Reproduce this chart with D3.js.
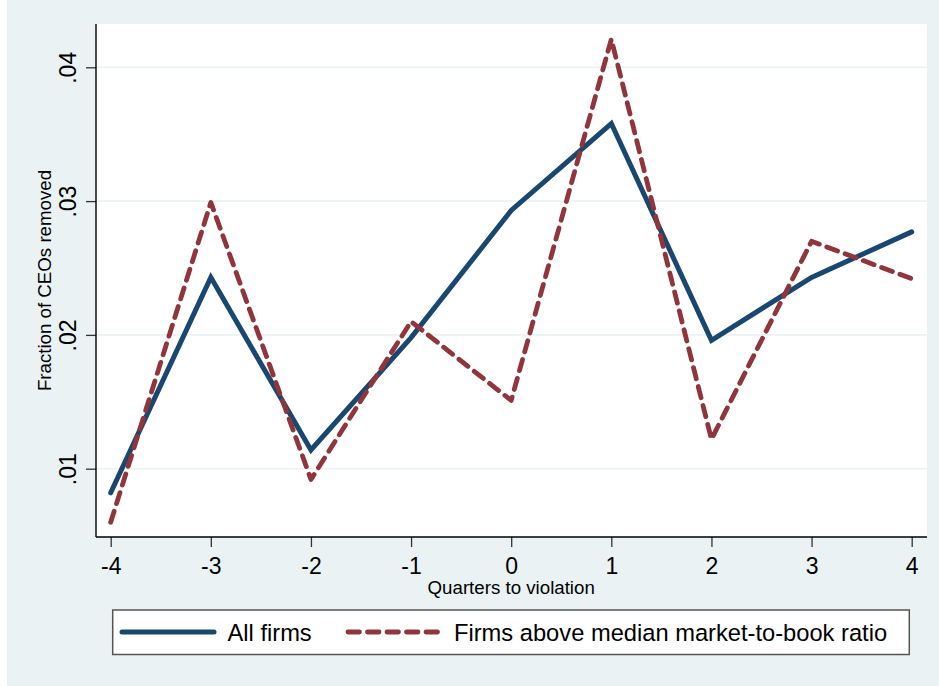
<!DOCTYPE html>
<html><head><meta charset="utf-8">
<script src="https://cdn.jsdelivr.net/npm/d3@7"></script>
<style>
html,body{margin:0;padding:0;background:#fff;}
svg{display:block;}
text{font-family:"Liberation Sans",Arial,Helvetica,sans-serif;fill:#000;}
</style></head>
<body>
<svg id="chart" width="939" height="686"></svg>
<script>
const quarters = [-4, -3, -2, -1, 0, 1, 2, 3, 4];
const allFirms = [0.0082, 0.0243, 0.0114, 0.0198, 0.0293, 0.0358, 0.0196, 0.0243, 0.0277];
const aboveMedian = [0.0060, 0.0299, 0.0092, 0.0210, 0.0151, 0.0421, 0.0122, 0.0270, 0.0242];
const yTicks = [0.01, 0.02, 0.03, 0.04];
const xTicks = [-4, -3, -2, -1, 0, 1, 2, 3, 4];
const seriesNames = ["All firms", "Firms above median market-to-book ratio"];
const xTitle = "Quarters to violation";
const yTitle = "Fraction of CEOs removed";

const svg = d3.select("#chart");
const navy = "#1a476f", maroon = "#90353b", bg = "#eaf2f3";

// outer graph region
svg.append("rect").attr("x", 7).attr("y", 0).attr("width", 932).attr("height", 686).attr("fill", bg);

const plot = {left: 96, right: 927, top: 24, bottom: 537};
svg.append("rect").attr("x", plot.left).attr("y", plot.top)
  .attr("width", plot.right - plot.left).attr("height", plot.bottom - plot.top).attr("fill", "#fff");

const x = d3.scaleLinear().domain([-4, 4]).range([110.7, 911.7]);
const y = d3.scaleLinear().domain([0.01, 0.04]).range([468.7, 67.3]);

// gridlines
svg.append("g").selectAll("line").data(yTicks).join("line")
  .attr("x1", plot.left).attr("x2", plot.right)
  .attr("y1", d => y(d)).attr("y2", d => y(d))
  .attr("stroke", bg).attr("stroke-width", 1.6);

// y axis
const fmt = d => d3.format(".2f")(d).replace(/^0/, "");
const yAxis = svg.append("g").attr("transform", `translate(${plot.left},0)`)
  .call(d3.axisLeft(y).tickValues(yTicks).tickSize(10).tickSizeOuter(0).tickFormat(fmt));
yAxis.select(".domain").remove();
yAxis.selectAll(".tick line").attr("stroke", "#333").attr("stroke-width", 1.3);
yAxis.selectAll(".tick text")
  .attr("x", null).attr("dy", null)
  .attr("transform", "translate(-20,0) rotate(-90)")
  .attr("text-anchor", "middle").attr("y", 0)
  .style("font-size", "23px").style("font-family", "'Liberation Sans',Arial,sans-serif").attr("fill", "#000");
svg.append("line").attr("x1", plot.left).attr("x2", plot.left)
  .attr("y1", plot.top).attr("y2", plot.bottom).attr("stroke", "#000").attr("stroke-width", 1.4);

// x axis
const xAxis = svg.append("g").attr("transform", `translate(0,${plot.bottom})`)
  .call(d3.axisBottom(x).tickValues(xTicks).tickSize(10).tickSizeOuter(0).tickFormat(d3.format("d")));
xAxis.select(".domain").remove();
xAxis.selectAll(".tick line").attr("stroke", "#333").attr("stroke-width", 1.3);
xAxis.selectAll(".tick text").attr("dy", null).attr("y", 36.5)
  .style("font-size", "23px").style("font-family", "'Liberation Sans',Arial,sans-serif").attr("fill", "#000")
  .text(d => d < 0 ? "-" + Math.abs(d) : String(d));
svg.append("line").attr("x1", plot.left).attr("x2", plot.right)
  .attr("y1", plot.bottom).attr("y2", plot.bottom).attr("stroke", "#000").attr("stroke-width", 1.4);

// titles
svg.append("text").attr("x", (x(-4) + x(4)) / 2).attr("y", 593.5).attr("text-anchor", "middle")
  .style("font-size", "18.7px").text(xTitle);
svg.append("text").attr("transform", `translate(51,${(plot.top + plot.bottom) / 2}) rotate(-90)`)
  .attr("text-anchor", "middle").style("font-size", "18.7px").text(yTitle);

// lines
const line = d3.line().x((d, i) => x(quarters[i])).y(d => y(d));
svg.append("path").datum(allFirms).attr("d", line).attr("fill", "none")
  .attr("stroke", navy).attr("stroke-width", 5).attr("stroke-linejoin", "miter").attr("stroke-linecap", "round");
svg.append("path").datum(aboveMedian).attr("d", line).attr("fill", "none")
  .attr("stroke", maroon).attr("stroke-width", 4.8).attr("stroke-dasharray", "11.5,8")
  .attr("stroke-linejoin", "round").attr("stroke-linecap", "round");

// legend
const lg = svg.append("g");
lg.append("rect").attr("x", 112.7).attr("y", 610).attr("width", 796.6).attr("height", 44.5)
  .attr("fill", "#fff").attr("stroke", "#555").attr("stroke-width", 1.5);
lg.append("line").attr("x1", 122).attr("x2", 214).attr("y1", 632).attr("y2", 632)
  .attr("stroke", navy).attr("stroke-width", 5).attr("stroke-linecap", "round");
lg.append("text").attr("x", 227.5).attr("y", 640.5).style("font-size", "23.7px").text(seriesNames[0]);
lg.append("line").attr("x1", 348).attr("x2", 440).attr("y1", 632).attr("y2", 632)
  .attr("stroke", maroon).attr("stroke-width", 4.8).attr("stroke-dasharray", "11.5,8").attr("stroke-linecap", "round");
lg.append("text").attr("x", 454).attr("y", 640.5).style("font-size", "23.7px").text(seriesNames[1]);
</script>
</body></html>
